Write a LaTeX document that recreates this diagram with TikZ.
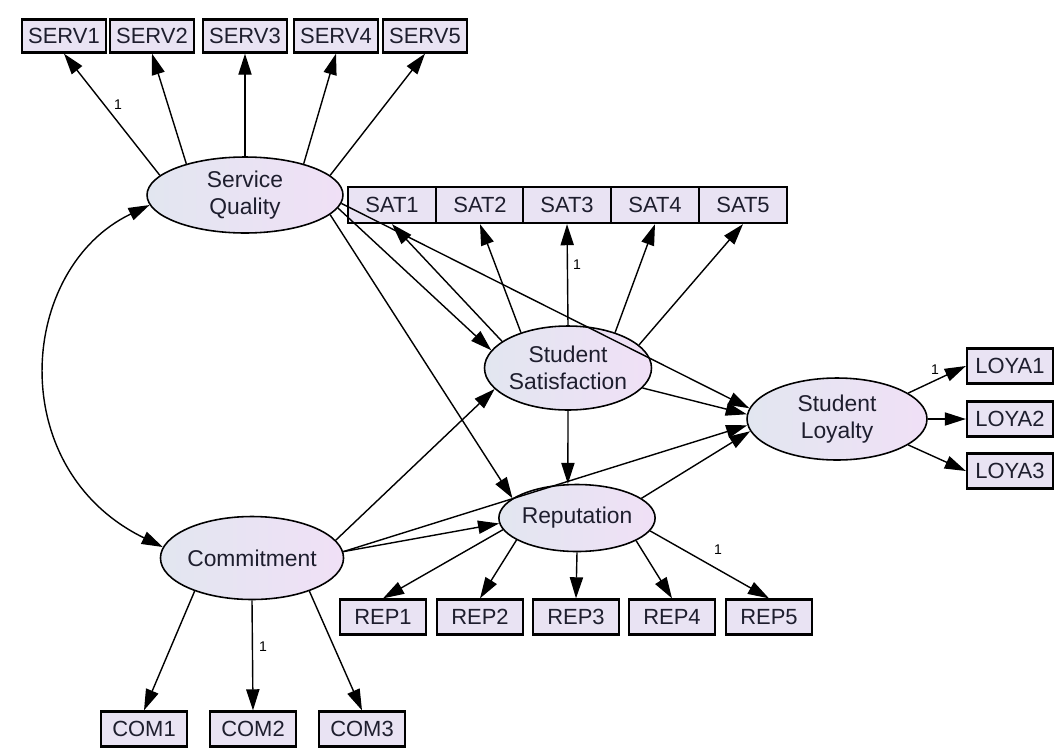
\documentclass[tikz,border=0pt]{standalone}
\usepackage{fontspec}
\setmainfont{Liberation Sans}
\usetikzlibrary{shapes.geometric,arrows.meta}
\tikzset{>={Triangle[length=12pt,width=7.5pt]}}
\definecolor{lilac}{RGB}{240,224,246}
\definecolor{greyblue}{RGB}{226,230,240}
\definecolor{boxfill}{RGB}{233,227,243}
\definecolor{ink}{RGB}{30,30,46}
\tikzset{
	latent/.style={ellipse,draw,line width=0.9pt,left color=greyblue,right color=lilac,inner sep=0pt,align=center,text=ink,font=\fontsize{13}{15}\selectfont},
	observed/.style={rectangle,draw,line width=1.3pt,fill=boxfill,minimum width=1.72cm,minimum height=0.7cm,inner sep=0pt,text=ink,font=\fontsize{12.5}{14}\selectfont},
	link/.style={->,line width=0.8pt},
	one/.style={inner sep=0pt,font=\fontsize{8}{9}\selectfont}
}

\begin{document}
\begin{tikzpicture}[x=0.02cm,y=-0.02cm]
		\useasboundingbox (0,0) rectangle (1055,751);
		% latent variables
		\node[latent,minimum width=3.92cm,minimum height=1.52cm] (SQ) at (245,195) {Service\\Quality};
		\node[latent,minimum width=3.12cm,minimum height=1.68cm] (SS) at (568,368) {Student\\Satisfaction};
		\node[latent,minimum width=3.6cm,minimum height=1.64cm] (SL) at (837,419) {Student\\Loyalty};
		\node[latent,minimum width=3.1cm,minimum height=1.34cm] (REP) at (577,518) {Reputation};
		\node[latent,minimum width=3.62cm,minimum height=1.66cm] (COM) at (252,558) {Commitment};
		% indicators
		\node[observed,minimum width=1.68cm,minimum height=0.66cm] (serv1) at (64,36) {SERV1};
		\node[observed,minimum width=1.68cm,minimum height=0.66cm] (serv2) at (152,36) {SERV2};
		\node[observed,minimum width=1.68cm,minimum height=0.66cm] (serv3) at (245,36) {SERV3};
		\node[observed,minimum width=1.68cm,minimum height=0.66cm] (serv4) at (336,36) {SERV4};
		\node[observed,minimum width=1.68cm,minimum height=0.66cm] (serv5) at (425,36) {SERV5};
		\node[observed,minimum width=1.76cm,minimum height=0.72cm] (sat1) at (392,205) {SAT1};
		\node[observed,minimum width=1.76cm,minimum height=0.72cm] (sat2) at (480,205) {SAT2};
		\node[observed,minimum width=1.76cm,minimum height=0.72cm] (sat3) at (567,205) {SAT3};
		\node[observed,minimum width=1.76cm,minimum height=0.72cm] (sat4) at (655,205) {SAT4};
		\node[observed,minimum width=1.76cm,minimum height=0.72cm] (sat5) at (743,205) {SAT5};
		\node[observed] (loya1) at (1010,366) {LOYA1};
		\node[observed] (loya2) at (1010,419) {LOYA2};
		\node[observed] (loya3) at (1010,471) {LOYA3};
		\node[observed] (rep1) at (383,617) {REP1};
		\node[observed] (rep2) at (480,617) {REP2};
		\node[observed] (rep3) at (576,617) {REP3};
		\node[observed] (rep4) at (672,617) {REP4};
		\node[observed] (rep5) at (769,617) {REP5};
		\node[observed] (com1) at (144,729) {COM1};
		\node[observed] (com2) at (253,729) {COM2};
		\node[observed] (com3) at (362,729) {COM3};
		% loadings
		\draw[link] (SQ.167) -- (serv1.south);
		\draw[link] (SQ.152) -- (serv2.south);
		\draw[link] (SQ.north) -- (serv3.south);
		\draw[link] (SQ.28) -- (serv4.south);
		\draw[link] (SQ.13) -- (serv5.south);
		\draw[link] (SS.158) -- (sat1.south);
		\draw[link] (SS.143) -- (sat2.south);
		\draw[link] (SS.north) -- (sat3.south);
		\draw[link] (SS.37) -- (sat4.south);
		\draw[link] (SS.18) -- (sat5.south);
		\draw[link] (SL.20) -- (loya1.west);
		\draw[link] (SL.east) -- (loya2.west);
		\draw[link] (SL.-20) -- (loya3.west);
		\draw[link] (REP.189) -- (rep1.north);
		\draw[link] (REP.200) -- (rep2.north);
		\draw[link] (REP.south) -- (rep3.north);
		\draw[link] (REP.-21) -- (rep4.north);
		\draw[link] (REP.-10) -- (rep5.north);
		\draw[link] (COM.210) -- (com1.north);
		\draw[link] (COM.south) -- (com2.north);
		\draw[link] (COM.-30) -- (com3.north);
		% structural paths
		\draw[link] (SQ.-8) -- (SS.167);
		\draw[link] (SQ.-5) -- (SL.173);
		\draw[link] (SQ.-13) -- (REP.163);
		\draw[link] (COM.12) -- (SS.196);
		\draw[link] (COM.4) -- (REP.184);
		\draw[link] (COM.4) -- (SL.184);
		\draw[link] (SS.south) -- (REP.105);
		\draw[link] (SS.-15) -- (SL.177);
		\draw[link] (REP.17) -- (SL.188);
		\draw[<->,line width=0.8pt] (SQ.186) .. controls +(-132,63) and +(-160,-78) .. (COM.173);
		% fixed weights
		\node[one] (w1) at (118,105) {1};
		\node[one] (w2) at (577,265) {1};
		\node[one] (w3) at (935,370) {1};
		\node[one] (w4) at (718,550) {1};
		\node[one] (w5) at (263,647) {1};
		
		\end{tikzpicture}
\end{document}
